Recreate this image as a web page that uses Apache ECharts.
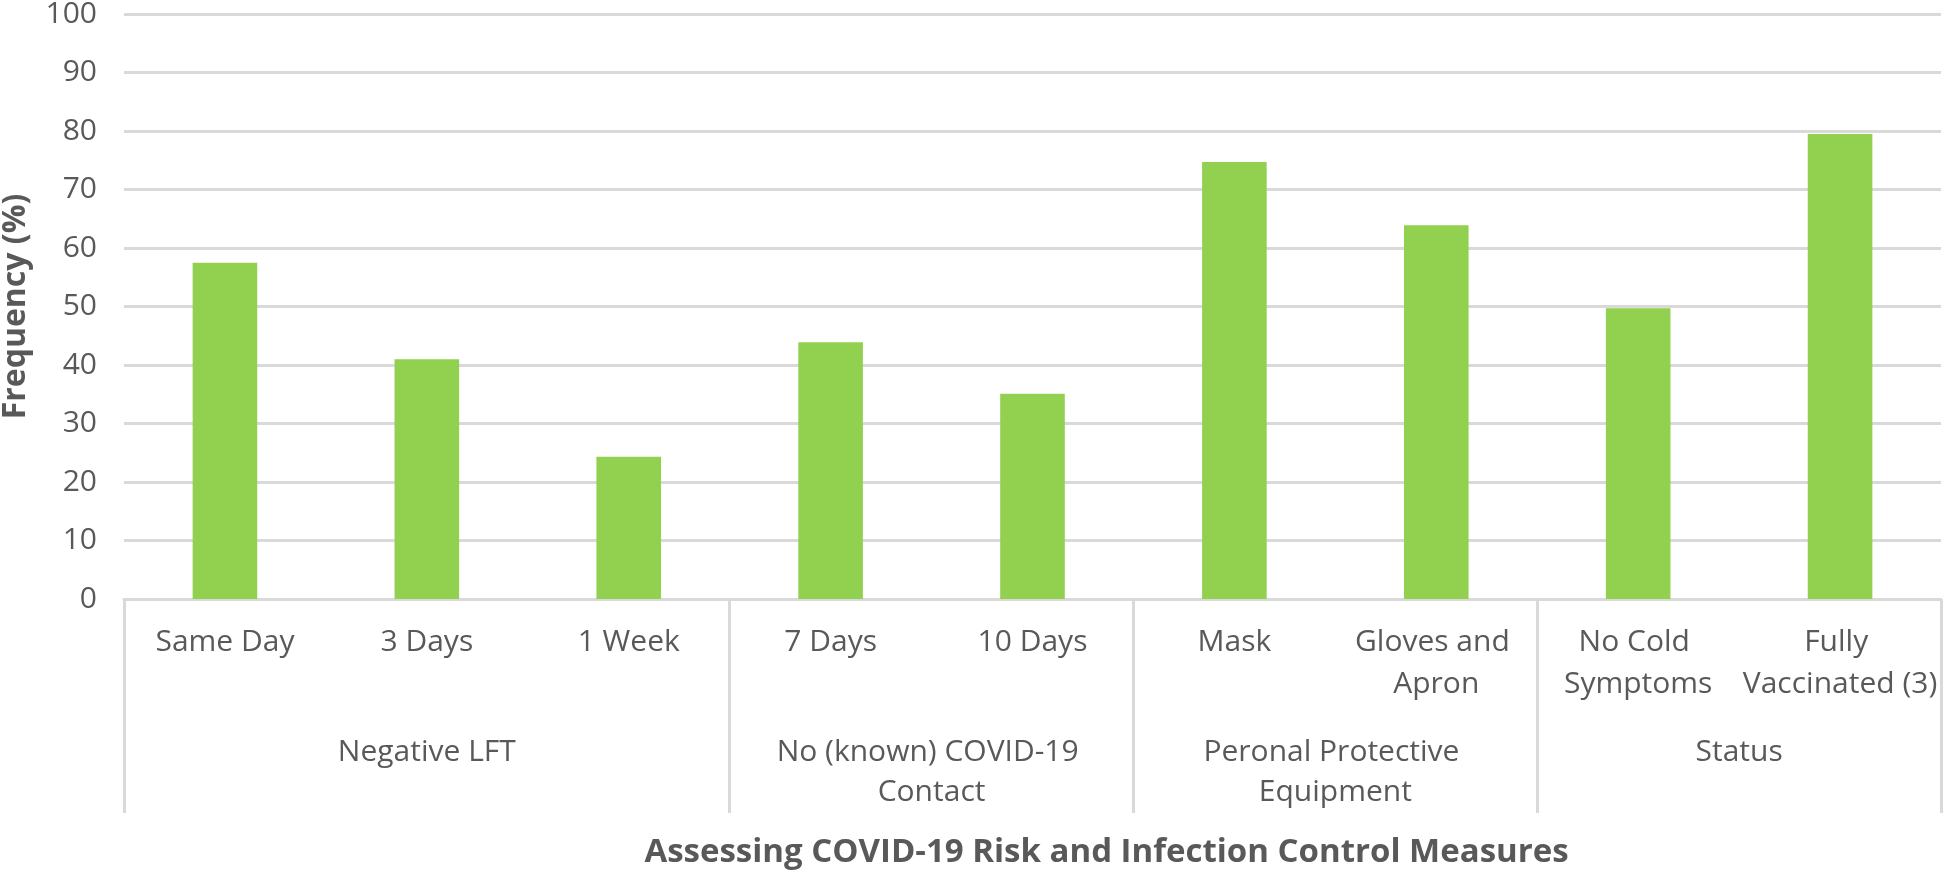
<!DOCTYPE html>
<html>
<head>
<meta charset="utf-8">
<script src="https://cdn.jsdelivr.net/npm/echarts@6/dist/echarts.min.js"></script>
<style>
html,body{margin:0;padding:0;background:#fff;}
#chart{width:1947px;height:881px;}
</style>
</head>
<body>
<div id="chart"></div>
<script>
const categories = ["Same Day", "3 Days", "1 Week", "7 Days", "10 Days", "Mask", "Gloves and Apron", "No Cold Symptoms", "Fully Vaccinated (3)"];
const values = [57.5, 41.0, 24.3, 43.9, 35.1, 74.7, 63.9, 49.7, 79.5];
const groups = ["Negative LFT", "No (known) COVID-19 Contact", "Peronal Protective Equipment", "Status"];
const groupSizes = [3, 2, 2, 2];
const yTicks = [0, 10, 20, 30, 40, 50, 60, 70, 80, 90, 100];

const boundaries = [0];
groupSizes.forEach(s => boundaries.push(boundaries[boundaries.length - 1] + s));
const centers = groupSizes.map((s, i) => boundaries[i] + s / 2);

const FONT = '"Open Sans", sans-serif';
const TXT = '#595959';
const LINE = '#D9D9D9';

const chart = echarts.init(document.getElementById('chart'), null, {renderer: 'canvas'});
chart.setOption({
  animation: false,
  backgroundColor: '#ffffff',
  textStyle: {fontFamily: FONT},
  grid: {left: 124, right: 6, top: 14, bottom: 282, containLabel: false, outerBoundsMode: 'none'},
  xAxis: [
    {
      type: 'category',
      data: categories,
      position: 'bottom',
      axisLine: {show: true, lineStyle: {color: LINE, width: 3}},
      axisTick: {show: false},
      axisLabel: {
        interval: 0, color: TXT, fontSize: 30, fontFamily: FONT,
        margin: 22, width: 195, overflow: 'break', lineHeight: 42, align: 'center'
      },
      splitLine: {show: false}
    },
    {
      type: 'value',
      min: 0, max: categories.length,
      position: 'bottom',
      offset: 0,
      axisLine: {show: false},
      axisTick: {show: true, customValues: boundaries, length: 214, lineStyle: {color: LINE, width: 3}},
      axisLabel: {
        show: true, customValues: centers, color: TXT, fontSize: 30, fontFamily: FONT,
        margin: 133, width: 340, overflow: 'break', lineHeight: 40, align: 'center',
        formatter: function (v) {
          const i = centers.findIndex(c => Math.abs(c - v) < 1e-6);
          return i >= 0 ? groups[i] : '';
        }
      },
      splitLine: {show: false},
      name: 'Assessing COVID-19 Risk and Infection Control Measures',
      nameLocation: 'middle',
      nameGap: 237,
      nameTextStyle: {color: TXT, fontSize: 33, fontWeight: 'bold', fontFamily: FONT, padding: [0, 0, 0, 148]}
    }
  ],
  yAxis: {
    type: 'value',
    min: yTicks[0], max: yTicks[yTicks.length - 1], interval: yTicks[1] - yTicks[0],
    axisLine: {show: false},
    axisTick: {show: false},
    axisLabel: {color: TXT, fontSize: 30, fontFamily: FONT, margin: 27},
    splitLine: {show: true, lineStyle: {color: LINE, width: 3}},
    name: 'Frequency (%)',
    nameLocation: 'middle',
    nameRotate: 90,
    nameGap: 92,
    nameTextStyle: {color: TXT, fontSize: 32, fontWeight: 'bold', fontFamily: FONT}
  },
  series: [{
    type: 'bar',
    xAxisIndex: 0,
    data: values,
    barCategoryGap: '68%',
    itemStyle: {color: '#92D050'}
  }]
});
</script>
</body>
</html>
